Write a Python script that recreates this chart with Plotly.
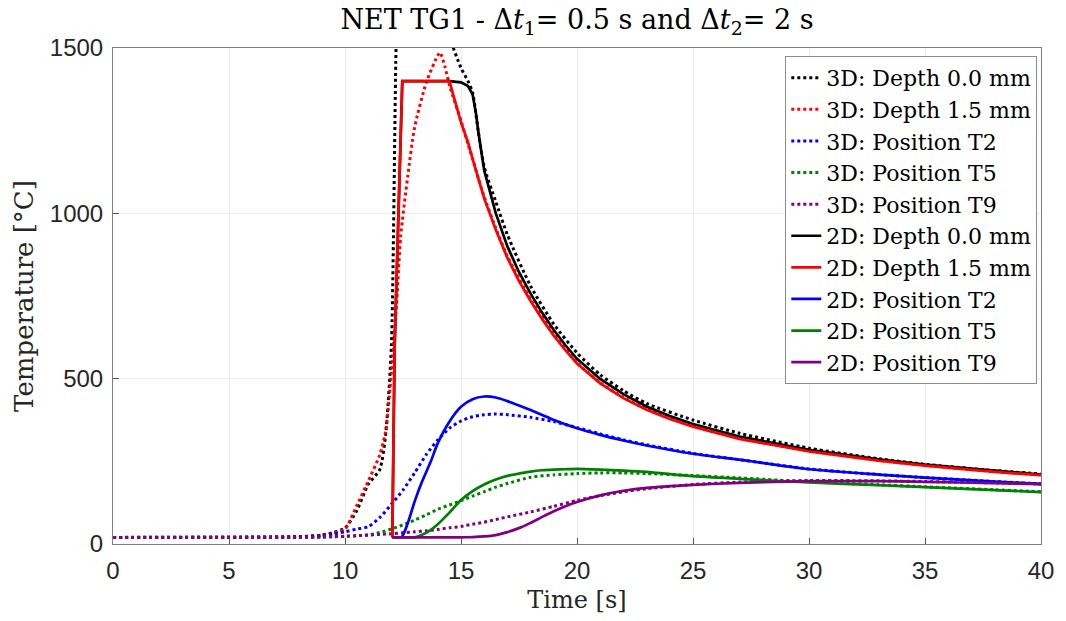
import plotly.graph_objects as go

# ---------------- data ----------------
# 3D simulations (start at t = 0)
t_3d_depth = [0, 8, 9, 9.5, 10, 10.5, 11, 11.5, 11.75, 12, 12.2, 12.4, 12.7, 13, 13.5, 14, 14.1, 14.3,
              14.5, 15, 15.3, 15.5, 15.75, 16, 16.5, 17, 18, 19, 20, 21, 22, 23, 25, 27, 30, 33, 35, 38, 40]
T_3d_d00 = [20, 22, 27, 35, 48, 100, 180, 225, 330, 600, 1500, 2000, 2300, 2400, 2350, 2100, 2000, 1800,
            1540, 1440, 1400, 1365, 1245, 1140, 1035, 935, 780, 665, 578, 512, 464, 425, 375, 335, 290, 258, 241, 222, 212]
T_3d_d15 = [20, 22, 26, 33, 45, 115, 190, 270, 340, 520, 700, 930, 1110, 1260, 1395, 1478, 1486, 1445,
            1388, 1280, 1210, 1165, 1105, 1050, 955, 870, 740, 635, 548, 488, 443, 408, 357, 320, 282, 253, 238, 219, 209]

t_3d_pos = [0, 8, 9, 9.5, 10, 10.5, 11, 11.5, 12, 12.5, 13, 13.5, 14, 14.5, 15, 15.5, 16, 16.5, 17, 18,
            19, 20, 21, 22, 23, 25, 27, 30, 33, 35, 38, 40]
T_3d_T2 = [20, 22, 25, 30, 37, 45, 52, 80, 120, 163, 215, 270, 315, 350, 372, 385, 391, 393, 391, 383,
           370, 352, 333, 315, 300, 274, 255, 227, 210, 201, 189, 182]
T_3d_T5 = [20, 20, 21, 22, 23, 25, 27, 35, 45, 58, 72, 88, 105, 118, 131, 145, 158, 172, 183, 202,
           209, 213, 215, 215, 213, 207, 200, 188, 179, 173, 164, 158]
T_3d_T9 = [20, 20, 21, 22, 23, 25, 27, 29, 31, 34, 37, 40, 44, 49, 53, 60, 66, 74, 82, 97,
           114, 132, 146, 158, 167, 180, 187, 192, 191, 189, 185, 182]

# 2D simulations (start at t = 12 s)
t_2d_depth = [12.04, 12.14, 12.47, 14.5, 15, 15.3, 15.5, 15.65, 15.75, 16, 16.5, 17, 17.5, 18, 18.5, 19,
              19.5, 20, 21, 22, 23, 24, 25, 27, 30, 33, 35, 38, 40]
T_2d_d00 = [20, 600, 1400, 1400, 1396, 1385, 1360, 1300, 1245, 1130, 1000, 900, 822, 757, 699, 647,
            601, 560, 499, 453, 416, 387, 363, 325, 285, 256, 240, 221, 210]
T_2d_d15 = [20, 600, 1400, 1400, 1275, 1215, 1165, 1130, 1105, 1045, 950, 865, 795, 735, 680, 630,
            586, 546, 486, 441, 406, 378, 355, 318, 280, 252, 237, 218, 208]

t_2d_pos = [12.04, 12.45, 12.7, 13, 13.3, 13.7, 14, 14.5, 15, 15.5, 16, 16.5, 17, 17.5, 18, 18.5, 19,
            19.5, 20, 21, 22, 23, 25, 27, 30, 33, 35, 38, 40]
T_2d_T2 = [20, 22, 62, 128, 185, 250, 305, 370, 415, 438, 446, 443, 432, 419, 405, 390, 375,
           362, 350, 330, 313, 298, 273, 255, 226, 210, 201, 189, 181]
T_2d_T5 = [20, 20, 20, 20, 27, 43, 60, 95, 133, 160, 180, 195, 206, 213, 219, 223, 225,
           226, 227, 225, 222, 218, 205, 197, 186, 178, 172, 163, 157]
T_2d_T9 = [20, 20, 20, 20, 20, 20, 20, 20, 20, 21, 23, 27, 36, 48, 64, 82, 99,
           114, 127, 147, 161, 170, 179, 185, 190, 190, 188, 184, 181]

series = [
    ("3D: Depth 0.0 mm", t_3d_depth, T_3d_d00, "black", "dot", "spline"),
    ("3D: Depth 1.5 mm", t_3d_depth, T_3d_d15, "red", "dot", "spline"),
    ("3D: Position T2", t_3d_pos, T_3d_T2, "blue", "dot", "spline"),
    ("3D: Position T5", t_3d_pos, T_3d_T5, "green", "dot", "spline"),
    ("3D: Position T9", t_3d_pos, T_3d_T9, "purple", "dot", "spline"),
    ("2D: Depth 0.0 mm", t_2d_depth, T_2d_d00, "black", "solid", "linear"),
    ("2D: Depth 1.5 mm", t_2d_depth, T_2d_d15, "red", "solid", "linear"),
    ("2D: Position T2", t_2d_pos, T_2d_T2, "blue", "solid", "spline"),
    ("2D: Position T5", t_2d_pos, T_2d_T5, "green", "solid", "spline"),
    ("2D: Position T9", t_2d_pos, T_2d_T9, "purple", "solid", "spline"),
]

SERIF = "DejaVu Serif"
SANS = "Liberation Sans"

fig = go.Figure()
for name, tx, ty, col, dash, shape in series:
    line = dict(color=col, width=3 if dash == "dot" else 2.7, dash=dash, shape=shape)
    if shape == "spline":
        line["smoothing"] = 0.6
    fig.add_trace(go.Scatter(x=tx, y=ty, mode="lines", name=name, line=line))

fig.update_layout(
    width=1066, height=621,
    margin=dict(l=113, r=20, t=48, b=76),
    paper_bgcolor="white", plot_bgcolor="white",
    title=dict(
        text="NET TG1 - Δ<i>t</i><sub>1</sub>= 0.5 s and Δ<i>t</i><sub>2</sub>= 2 s",
        x=0.5, xref="paper", xanchor="center",
        y=0.968, yref="container", yanchor="middle",
        font=dict(family=SERIF, size=27, color="black"),
    ),
    legend=dict(
        x=0.996, y=0.984, xanchor="right", yanchor="top",
        bgcolor="white", bordercolor="#8c8c8c", borderwidth=1,
        font=dict(family=SERIF, size=22, color="black"),
        tracegroupgap=0, itemwidth=30,
    ),
    showlegend=True,
)

fig.update_xaxes(
    range=[0, 40], dtick=5, tick0=0,
    showgrid=True, gridcolor="#ebebeb", gridwidth=1,
    zeroline=False,
    showline=True, linecolor="#7f7f7f", linewidth=1, mirror=True,
    ticks="inside", ticklen=6, tickcolor="#555555",
    ticklabelstandoff=5,
    tickfont=dict(family=SANS, size=24, color="#262626"),
    title=dict(text="Time [s]", font=dict(family=SERIF, size=24, color="#262626"), standoff=8),
)
fig.update_yaxes(
    range=[0, 1500], dtick=500, tick0=0,
    showgrid=True, gridcolor="#ebebeb", gridwidth=1,
    zeroline=False,
    showline=True, linecolor="#7f7f7f", linewidth=1, mirror=True,
    ticks="inside", ticklen=6, tickcolor="#555555",
    ticklabelstandoff=4,
    tickfont=dict(family=SANS, size=24, color="#262626"),
    title=dict(text="Temperature [°C]", font=dict(family=SERIF, size=26, color="#262626"), standoff=8),
)

fig.write_html("out.html")
